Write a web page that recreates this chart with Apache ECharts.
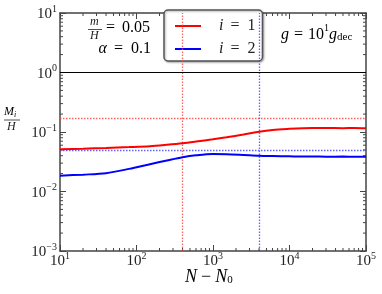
<!DOCTYPE html>
<html><head><meta charset="utf-8">
<script src="https://cdn.jsdelivr.net/npm/echarts@6/dist/echarts.min.js"></script>
<style>html,body{margin:0;padding:0;background:#fff}#c{width:382px;height:294px}</style>
</head><body><div id="c"></div>
<script>
// ---- data ----
const N = [10, 20, 40, 80, 150, 250, 400, 600, 1000, 1500, 2500, 4000, 6000, 10000, 15000, 20000, 30000, 50000, 70000, 100000];
const M1 = [0.0512, 0.0525, 0.0540, 0.0558, 0.0578, 0.0610, 0.0646, 0.0690, 0.0755, 0.0815, 0.0905, 0.101, 0.108, 0.113, 0.116, 0.117, 0.117, 0.116, 0.117, 0.116];
const M2 = [0.01845, 0.0192, 0.0203, 0.0240, 0.0288, 0.0332, 0.0376, 0.0405, 0.0426, 0.0424, 0.0412, 0.0400, 0.0395, 0.0390, 0.0386, 0.0388, 0.0384, 0.0386, 0.0383, 0.0385];
const seriesNames = ['i = 1', 'i = 2'];
const refN = [400, 4000];      // dotted verticals (red, blue)
const refM = [0.165, 0.052];   // dotted horizontals (red, blue)
const unitLevel = 1;
const xTickValues = [10, 100, 1000, 10000, 100000];
const yTickValues = [0.001, 0.01, 0.1, 1, 10];
const xMinor = [], yMinor = [];
xTickValues.slice(0, -1).forEach(d => { for (let k = 2; k <= 9; k++) xMinor.push(k * d); });
yTickValues.slice(0, -1).forEach(d => { for (let k = 2; k <= 9; k++) yMinor.push(+(k * d).toPrecision(3)); });

const FONT = "'Liberation Serif','DejaVu Serif',serif";
const AX = '#444';
const TXT = '#222';
const chart = echarts.init(document.getElementById('c'), null, {renderer: 'canvas'});

function expLabel(v) {
  const e = Math.round(Math.log10(v));
  return '{b|10}{s|' + String(e).replace('-', '\u2212') + '}';
}
const labelRich = {
  b: {fontFamily: FONT, fontSize: 15, color: TXT, lineHeight: 18, verticalAlign: 'bottom'},
  s: {fontFamily: FONT, fontSize: 10, color: TXT, lineHeight: 7, verticalAlign: 'top'}
};

const xBase = {
  type: 'log', logBase: 10, min: 10, max: 100000, gridIndex: 0,
  axisLine: {show: true, lineStyle: {color: AX, width: 1.5}},
  axisTick: {show: true, inside: true, length: 6, customValues: xTickValues, lineStyle: {color: AX, width: 1}},
  splitLine: {show: false}, minorTick: {show: false}
};
const yBase = {
  type: 'log', logBase: 10, min: 0.001, max: 10, gridIndex: 0,
  axisLine: {show: true, lineStyle: {color: AX, width: 1.5}},
  axisTick: {show: true, inside: true, length: 6, customValues: yTickValues, lineStyle: {color: AX, width: 1}},
  splitLine: {show: false}, minorTick: {show: false}
};

function minorX(params, api) {
  const v = api.value(0);
  const b = api.coord([v, 0.001]);
  const t = api.coord([v, 10]);
  const st = {stroke: AX, lineWidth: 1};
  return {type: 'group', children: [
    {type: 'line', shape: {x1: b[0], y1: b[1], x2: b[0], y2: b[1] - 3}, style: st},
    {type: 'line', shape: {x1: t[0], y1: t[1], x2: t[0], y2: t[1] + 3}, style: st}
  ]};
}
function minorY(params, api) {
  const v = api.value(1);
  const l = api.coord([10, v]);
  const r = api.coord([100000, v]);
  const st = {stroke: AX, lineWidth: 1};
  return {type: 'group', children: [
    {type: 'line', shape: {x1: l[0], y1: l[1], x2: l[0] + 3, y2: l[1]}, style: st},
    {type: 'line', shape: {x1: r[0], y1: r[1], x2: r[0] - 3, y2: r[1]}, style: st}
  ]};
}

const mathRich = {
  i: {fontFamily: FONT, fontStyle: 'italic', fontSize: 16, color: TXT, lineHeight: 18},
  e: {fontFamily: FONT, fontSize: 16, color: TXT, lineHeight: 18, padding: [0, 8, 0, 7]},
  e2: {fontFamily: FONT, fontSize: 16, color: TXT, lineHeight: 18, padding: [0, 7, 0, 0]},
  t: {fontFamily: FONT, fontSize: 16, color: TXT, lineHeight: 18}
};

const option = {
  animation: false,
  backgroundColor: '#fff',
  grid: {left: 60, right: 16, top: 13, bottom: 43, containLabel: false, outerBoundsMode: 'none'},
  xAxis: [
    Object.assign({}, xBase, {position: 'bottom',
      axisLabel: {show: true, customValues: xTickValues, margin: 0, formatter: expLabel, rich: labelRich}}),
    Object.assign({}, xBase, {position: 'top', axisLabel: {show: false}})
  ],
  yAxis: [
    Object.assign({}, yBase, {position: 'left',
      axisLabel: {show: true, customValues: yTickValues, margin: 3, formatter: expLabel, rich: labelRich}}),
    Object.assign({}, yBase, {position: 'right', axisLabel: {show: false}})
  ],
  legend: {
    show: true, orient: 'vertical', left: 164, top: 10,
    padding: [8, 7, 4, 11], itemGap: 7, itemWidth: 26, itemHeight: 2,
    icon: 'rect',
    backgroundColor: '#fff', borderColor: '#555', borderWidth: 1.5, borderRadius: 4,
    shadowColor: 'rgba(0,0,0,0.3)', shadowBlur: 2, shadowOffsetX: 1, shadowOffsetY: 1,
    data: seriesNames,
    formatter: n => '{i|i}{e|=}{t|' + n.split('= ')[1] + '}',
    textStyle: {padding: [0, 0, 0, 13], rich: mathRich}
  },
  graphic: [
    // m/H = 0.05
    {type: 'text', left: 90, top: 16, style: {text: 'm', font: "italic 12px " + FONT, fill: TXT}},
    {type: 'line', shape: {x1: 88, y1: 29.5, x2: 102, y2: 29.5}, style: {stroke: TXT, lineWidth: 0.8}},
    {type: 'text', left: 90, top: 30, style: {text: 'H', font: "italic 12px " + FONT, fill: TXT}},
    {type: 'text', left: 106, top: 20, style: {text: '{e2|=}{t|0.05}', rich: mathRich}},
    {type: 'text', right: 231, top: 41, style: {text: '{i|\u03b1}{e|=}{t|0.1}', rich: mathRich}},
    // g = 10^1 g_dec
    {type: 'text', left: 281, top: 23, style: {
      text: '{i|g}{e|=}{t|10}{s|1}{i|g}{d|dec}',
      rich: {
        i: {fontFamily: FONT, fontStyle: 'italic', fontSize: 16, color: TXT, lineHeight: 20, verticalAlign: 'bottom'},
        e: {fontFamily: FONT, fontSize: 16, color: TXT, lineHeight: 20, verticalAlign: 'bottom', padding: [0, 5, 0, 5]},
        t: {fontFamily: FONT, fontSize: 16, color: TXT, lineHeight: 20, verticalAlign: 'bottom'},
        s: {fontFamily: FONT, fontSize: 10, color: TXT, lineHeight: 8, verticalAlign: 'top'},
        d: {fontFamily: FONT, fontSize: 11, color: TXT, lineHeight: 14, verticalAlign: 'bottom'}
      }}},
    // y axis label M_i / H
    {type: 'text', left: 4, top: 106, style: {
      text: '{i|M}{d|i}',
      rich: {i: {fontFamily: FONT, fontStyle: 'italic', fontSize: 12, color: TXT, lineHeight: 13, verticalAlign: 'top'},
             d: {fontFamily: FONT, fontStyle: 'italic', fontSize: 8, color: TXT, lineHeight: 10, verticalAlign: 'bottom'}}}},
    {type: 'line', shape: {x1: 4, y1: 120, x2: 20, y2: 120}, style: {stroke: TXT, lineWidth: 0.8}},
    {type: 'text', left: 7, top: 121, style: {text: 'H', font: "italic 12px " + FONT, fill: TXT}},
    // x axis title
    {type: 'text', left: 185, top: 268, style: {
      text: '{i|N}{t|\u2212}{i|N}{d|0}',
      rich: {i: {fontFamily: FONT, fontStyle: 'italic', fontSize: 18, color: TXT, lineHeight: 20, verticalAlign: 'bottom'},
             t: {fontFamily: FONT, fontSize: 18, color: TXT, lineHeight: 20, verticalAlign: 'bottom', padding: [0, 4, 0, 4]},
             d: {fontFamily: FONT, fontSize: 11, color: TXT, lineHeight: 13, verticalAlign: 'bottom'}}}}
  ],
  series: [
    {name: seriesNames[0], type: 'line', xAxisIndex: 0, yAxisIndex: 0, symbol: 'none', smooth: 0.3,
     data: N.map((n, i) => [n, M1[i]]), lineStyle: {color: '#f00', width: 2}, itemStyle: {color: '#f00'}, z: 5,
     markLine: {silent: true, symbol: 'none', label: {show: false}, animation: false,
       lineStyle: {color: 'rgba(255,60,60,0.8)', type: [1.5, 1.5], width: 1.3},
       data: [{xAxis: refN[0]}, {yAxis: refM[0]}]}},
    {name: seriesNames[1], type: 'line', xAxisIndex: 0, yAxisIndex: 0, symbol: 'none', smooth: 0.3,
     data: N.map((n, i) => [n, M2[i]]), lineStyle: {color: '#00f', width: 2}, itemStyle: {color: '#00f'}, z: 5,
     markLine: {silent: true, symbol: 'none', label: {show: false}, animation: false,
       lineStyle: {color: 'rgba(60,60,255,0.8)', type: [1.5, 1.5], width: 1.3},
       data: [{xAxis: refN[1]}, {yAxis: refM[1]}]}},
    {name: 'unit', type: 'line', xAxisIndex: 0, yAxisIndex: 0, symbol: 'none', data: [],
     markLine: {silent: true, symbol: 'none', label: {show: false}, animation: false,
       lineStyle: {color: '#000', type: 'solid', width: 1}, data: [{yAxis: unitLevel}]}},
    {name: 'minorX', type: 'custom', xAxisIndex: 0, yAxisIndex: 0, renderItem: minorX, silent: true,
     data: xMinor.map(v => [v, 1]), clip: false, z: 3},
    {name: 'minorY', type: 'custom', xAxisIndex: 0, yAxisIndex: 0, renderItem: minorY, silent: true,
     data: yMinor.map(v => [100, v]), clip: false, z: 3}
  ]
};
chart.setOption(option);
</script>
</body></html>
